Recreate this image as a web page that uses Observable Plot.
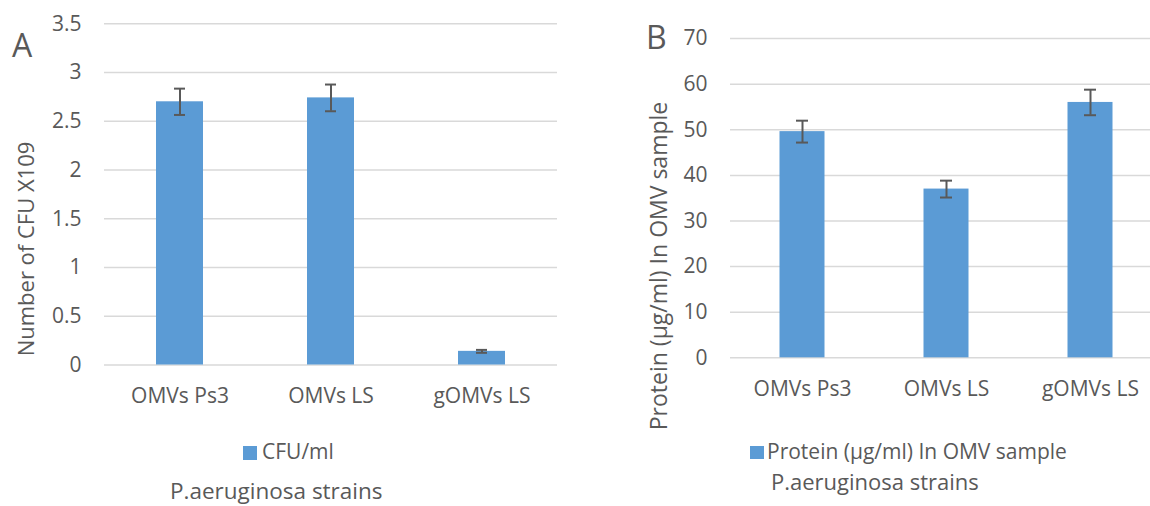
<!DOCTYPE html>
<html>
<head>
<meta charset="utf-8">
<script src="https://cdn.jsdelivr.net/npm/d3@7"></script>
<script src="https://cdn.jsdelivr.net/npm/@observablehq/plot@0.6"></script>
<style>
  html, body { margin: 0; padding: 0; background: #ffffff; overflow: hidden; }
  #root { position: relative; width: 1150px; height: 506px; overflow: hidden; background: #ffffff;
          font-family: "Open Sans", sans-serif; color: #595959; }
  .lbl { position: absolute; line-height: 1; white-space: nowrap; color: #595959; font-family: "Open Sans", sans-serif; }
  .sw { position: absolute; background: #5b9bd5; }
</style>
</head>
<body>
<div id="root"></div>
<script>
// ---- data ----
const categories = ["OMVs Ps3", "OMVs LS", "gOMVs LS"];
const cfuValues = [2.70, 2.74, 0.14];
const cfuErrors = [0.135, 0.137, 0.015];
const proteinValues = [49.6, 37.0, 56.0];
const proteinErrors = [2.4, 1.85, 2.8];
const cfuTicks = [0, 0.5, 1, 1.5, 2, 2.5, 3, 3.5];
const proteinTicks = [0, 10, 20, 30, 40, 50, 60, 70];

const panelALabel = "A";
const panelBLabel = "B";
const cfuAxisLabel = "Number of CFU X109";
const proteinAxisLabel = "Protein (µg/ml) In OMV sample";
const cfuLegend = "CFU/ml";
const proteinLegend = "Protein (µg/ml) In OMV sample";
const xTitle = "P.aeruginosa strains";

const barColor = "#5b9bd5";
const textColor = "#595959";
const gridColor = "#d9d9d9";

const rowsA = categories.map((c, i) => ({cat: c, value: cfuValues[i], lo: cfuValues[i] - cfuErrors[i], hi: cfuValues[i] + cfuErrors[i]}));
const rowsB = categories.map((c, i) => ({cat: c, value: proteinValues[i], lo: proteinValues[i] - proteinErrors[i], hi: proteinValues[i] + proteinErrors[i]}));

const root = document.getElementById("root");

function panel(rows, ticks, domainMax, opts) {
  const svg = Plot.plot({
    width: opts.width,
    height: 506,
    marginLeft: opts.marginLeft,
    marginRight: opts.marginRight,
    marginTop: opts.marginTop,
    marginBottom: opts.marginBottom,
    style: {fontFamily: "'Open Sans', sans-serif", fontSize: "21px", color: textColor, background: "transparent", overflow: "visible"},
    x: {domain: categories, padding: 0, label: null, tickSize: 0, tickPadding: 23},
    y: {domain: [0, domainMax], ticks: ticks, tickSize: 0, tickPadding: 23, label: null, tickFormat: d => String(d)},
    marks: [
      Plot.ruleY(ticks, {stroke: gridColor, strokeWidth: 1.5}),
      Plot.barY(rows, {x: "cat", y: "value", fill: barColor, insetLeft: opts.barInset, insetRight: opts.barInset}),
      Plot.ruleX(rows, {x: "cat", y1: "lo", y2: "hi", stroke: textColor, strokeWidth: 2}),
      Plot.tickY(rows, {x: "cat", y: "hi", stroke: textColor, strokeWidth: 2, insetLeft: opts.capInset, insetRight: opts.capInset}),
      Plot.tickY(rows, {x: "cat", y: "lo", stroke: textColor, strokeWidth: 2, insetLeft: opts.capInset, insetRight: opts.capInset})
    ]
  });
  svg.style.position = "absolute";
  svg.style.left = opts.left + "px";
  svg.style.top = "0px";
  svg.style.maxWidth = "none";
  root.appendChild(svg);
}

panel(rowsA, cfuTicks, 3.5, {left: 0, width: 580, marginLeft: 104, marginRight: 23, marginTop: 23.3, marginBottom: 141.5, barInset: 52, capInset: 70});
panel(rowsB, proteinTicks, 70, {left: 580, width: 582, marginLeft: 150, marginRight: 0, marginTop: 38.1, marginBottom: 148.7, barInset: 49.5, capInset: 66});

// text helper: x = left edge (or center if anchor middle), baseline y
function label(text, x, baseline, size, anchor) {
  const d = document.createElement("div");
  d.className = "lbl";
  d.textContent = text;
  d.style.fontSize = size + "px";
  d.style.left = x + "px";
  d.style.top = (baseline - 0.888 * size) + "px";
  if (anchor === "middle") d.style.transform = "translateX(-50%)";
  root.appendChild(d);
  return d;
}
function vlabel(text, cx, cy, size) {
  const d = document.createElement("div");
  d.className = "lbl";
  d.textContent = text;
  d.style.fontSize = size + "px";
  d.style.left = cx + "px";
  d.style.top = cy + "px";
  d.style.transform = "translate(-50%, -50%) rotate(-90deg)";
  root.appendChild(d);
}
function swatch(x, y, w, h) {
  const s = document.createElement("div");
  s.className = "sw";
  s.style.left = x + "px"; s.style.top = y + "px";
  s.style.width = w + "px"; s.style.height = h + "px";
  s.style.background = barColor;
  root.appendChild(s);
}

label(panelALabel, 12, 57, 32);
label(panelBLabel, 646, 49, 32);
vlabel(cfuAxisLabel, 25, 248.5, 22);
vlabel(proteinAxisLabel, 658, 265.5, 23);

swatch(243, 446, 14, 14);
label(cfuLegend, 262, 460, 21);
label(xTitle, 170, 500, 22.5);

swatch(750, 446, 14, 13);
label(proteinLegend, 767, 460, 21);
label(xTitle, 771, 490, 22);
</script>
</body>
</html>
